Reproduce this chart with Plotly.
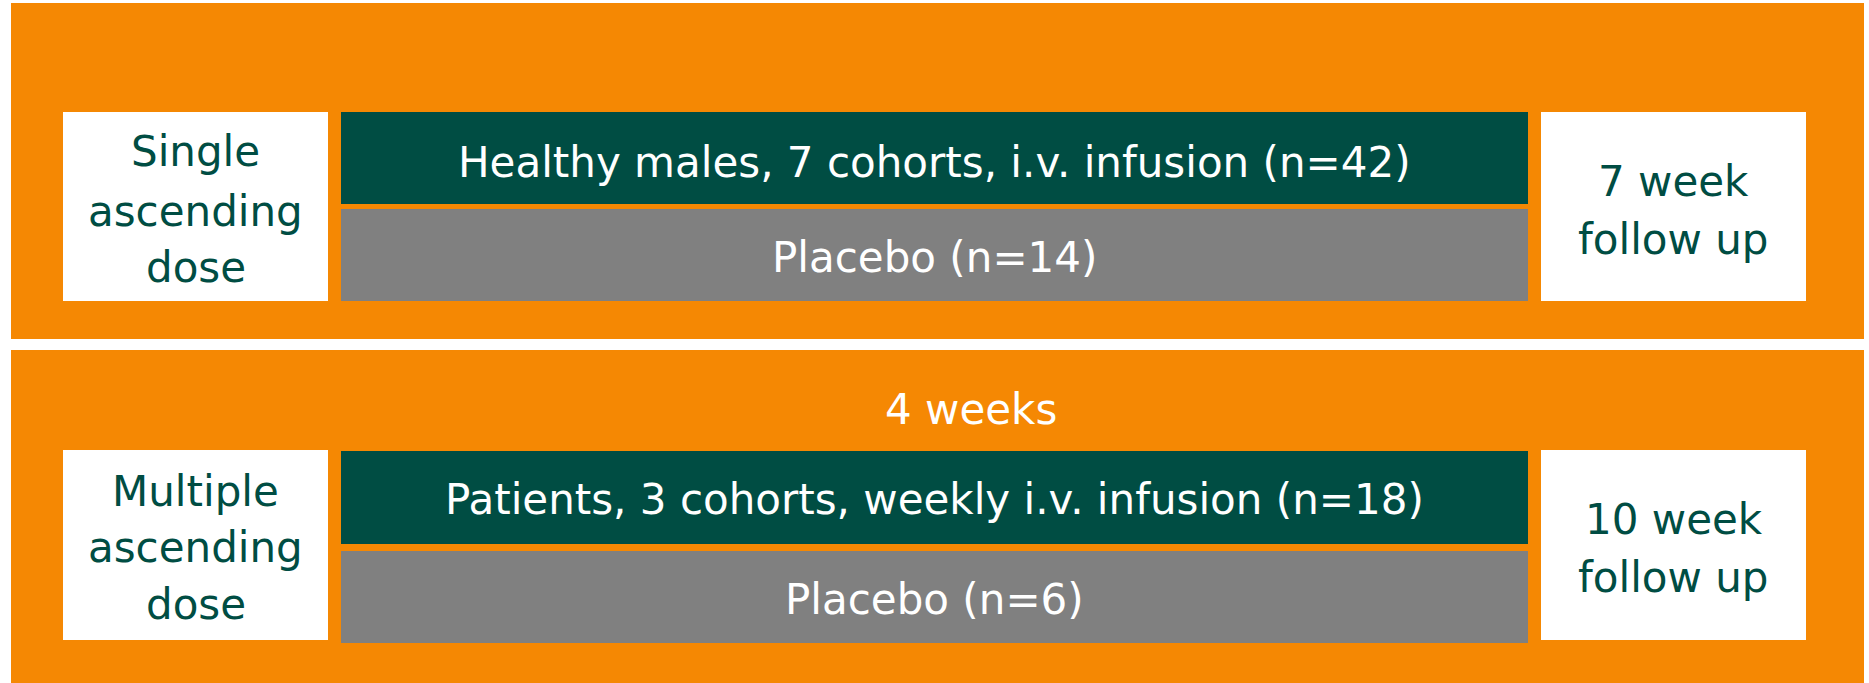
import plotly.graph_objects as go

# ---- content ----
study_labels = [["Single", "ascending", "dose"], ["Multiple", "ascending", "dose"]]
active_labels = ["Healthy males, 7 cohorts, i.v. infusion (n=42)",
                 "Patients, 3 cohorts, weekly i.v. infusion (n=18)"]
placebo_labels = ["Placebo (n=14)", "Placebo (n=6)"]
followup_labels = [["7 week", "follow up"], ["10 week", "follow up"]]
duration_labels = ["", "4 weeks"]

# ---- layout geometry (pixels, canvas 1869 x 683) ----
W, H = 1869, 683
panel_x = [11, 1864]
panel_y = [[3, 339], [350, 683]]
left_x = [63, 328]
mid_x = [341, 1528]
right_x = [1541, 1806]
box_y = [[112, 301], [450, 640]]
green_y = [[112, 204], [451, 544]]
gray_y = [[209, 301], [551, 643]]
label_baselines = [[167, 227, 283], [507, 563, 620]]
follow_baselines = [[197, 255], [535, 593]]
active_baseline = [178, 515]
placebo_baseline = [273, 615]
duration_baseline = [None, 425]

ORANGE = "#F58803"
GREEN = "#004D43"
GRAY = "#808080"
WHITE = "#FFFFFF"
FONT = "DejaVu Sans"
FS = 42
CAP = 0.36 * FS  # offset baseline -> visual middle

shapes = []
annotations = []

def rect(x0, x1, y0, y1, color):
    shapes.append(dict(type="rect", xref="x", yref="y", x0=x0, x1=x1, y0=y0, y1=y1,
                       fillcolor=color, line=dict(width=0), layer="below"))

def text(x, baseline, s, color):
    annotations.append(dict(x=x, y=baseline - CAP, xref="x", yref="y", text=s,
                            showarrow=False, xanchor="center", yanchor="middle",
                            font=dict(family=FONT, size=FS, color=color)))

for i in range(2):
    rect(panel_x[0], panel_x[1], panel_y[i][0], panel_y[i][1], ORANGE)
    rect(left_x[0], left_x[1], box_y[i][0], box_y[i][1], WHITE)
    rect(right_x[0], right_x[1], box_y[i][0], box_y[i][1], WHITE)
    rect(mid_x[0], mid_x[1], green_y[i][0], green_y[i][1], GREEN)
    rect(mid_x[0], mid_x[1], gray_y[i][0], gray_y[i][1], GRAY)
    cx_left = (left_x[0] + left_x[1]) / 2
    cx_mid = (mid_x[0] + mid_x[1]) / 2
    cx_right = (right_x[0] + right_x[1]) / 2
    for s, b in zip(study_labels[i], label_baselines[i]):
        text(cx_left, b, s, GREEN)
    for s, b in zip(followup_labels[i], follow_baselines[i]):
        text(cx_right, b, s, GREEN)
    text(cx_mid, active_baseline[i], active_labels[i], WHITE)
    text(cx_mid, placebo_baseline[i], placebo_labels[i], WHITE)
    if duration_labels[i]:
        text(971, duration_baseline[i], duration_labels[i], WHITE)

fig = go.Figure()
fig.add_trace(go.Scatter(x=[0, W], y=[0, H], mode="markers",
                         marker=dict(opacity=0), hoverinfo="skip", showlegend=False))
fig.update_layout(
    width=W, height=H, margin=dict(l=0, r=0, t=0, b=0),
    paper_bgcolor=WHITE, plot_bgcolor=WHITE,
    xaxis=dict(range=[0, W], visible=False, fixedrange=True),
    yaxis=dict(range=[H, 0], visible=False, fixedrange=True),
    shapes=shapes, annotations=annotations, showlegend=False,
)
fig.write_html("out.html", config={"displayModeBar": False},
               post_script="document.body.style.margin='0';document.body.style.overflow='hidden';")
